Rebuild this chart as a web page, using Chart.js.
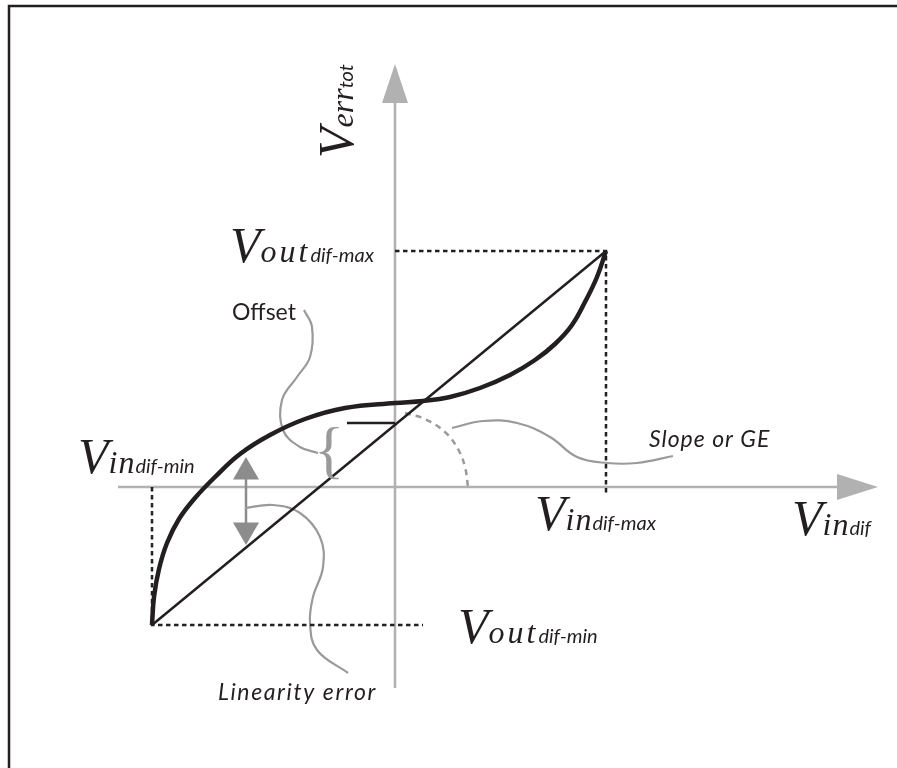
<!DOCTYPE html>
<html>
<head>
<meta charset="utf-8">
<script src="https://cdn.jsdelivr.net/npm/chart.js@4.4.1/dist/chart.umd.min.js"></script>
<style>
  html, body { margin: 0; padding: 0; background: #fff; }
  #wrap { width: 897px; height: 768px; position: relative; }
</style>
</head>
<body>
<div id="wrap"><canvas id="errChart"></canvas></div>
<script>
// transfer curve (real amplifier output), thick line
const curveX = [-243, -241, -236, -228, -216, -200, -180, -155, -125, -90, -50, 0, 28, 55, 85, 115, 140, 160, 177, 191, 202, 211];
const curveY = [-138, -110, -82, -56, -32, -11, 10, 33, 52, 68, 79, 84, 86, 90, 99, 112, 127, 143, 162, 187, 210, 236];

// ideal straight line between min and max
const idealX = [-243, 211];
const idealY = [-138, 236];

// dashed guides to the min / max points
const maxGuideX = [0, 211, 211];
const maxGuideY = [236, 236, -8];
const minGuideX = [-243, -243, 28];
const minGuideY = [0, -138, -138];

// offset mark
const offsetX = [-48, 0];
const offsetY = [64, 64];

// slope arc (dashed gray)
const arcX = [10, 30, 50, 63, 70, 73];
const arcY = [74, 68, 55, 38, 20, 0];

// leader curves to the annotations
const offsetLeadX = [-91, -83, -85, -98, -113, -112, -95, -77];
const offsetLeadY = [177, 160, 130, 110, 87, 57, 40, 34];
const linLeadX = [-150, -122, -95, -75, -72, -82, -85, -78, -47];
const linLeadY = [-21, -18, -26, -50, -80, -110, -136, -163, -186];
const slopeLeadX = [57, 88, 122, 155, 182, 212, 242, 278];
const slopeLeadY = [59, 66, 64, 50, 30, 24, 24, 31];

// linearity error double arrow
const errArrowX = [-149, -149];
const errArrowY = [15, -43];

// axes
const hAxisX = [-277, 442];
const hAxisY = [0, 0];
const vAxisX = [0, 0];
const vAxisY = [-201, 384];

const pts = (xs, ys) => xs.map((x, i) => ({ x: x, y: ys[i] }));

const BLACK = '#231f20';
const AXIS = '#b1b1b1';
const LEAD = '#9a9a9a';

const serifIt = s => 'italic ' + s + 'px "Liberation Serif"';
const sansIt = s => 'italic ' + s + 'px Lato';

function drawParts(ctx, parts) {
  let cx = 0;
  parts.forEach(p => {
    ctx.font = p.font;
    ctx.letterSpacing = (p.sp || 0) + 'px';
    ctx.fillText(p.t, cx, 0);
    cx += ctx.measureText(p.t).width;
  });
  ctx.letterSpacing = '0px';
}

function symbol(main, sub) {
  return [
    { t: 'V', font: serifIt(50) },
    { t: main, font: serifIt(32), sp: main === 'out' ? 3 : 1 },
    { t: sub, font: sansIt(20) }
  ];
}

const diagram = {
  id: 'diagram',
  beforeDraw(chart) {
    const ctx = chart.ctx;
    ctx.save();
    ctx.fillStyle = '#fff';
    ctx.fillRect(0, 0, chart.width, chart.height);
    ctx.strokeStyle = BLACK;
    ctx.lineWidth = 2.5;
    ctx.strokeRect(9, 6, chart.width + 20, chart.height + 20);
    ctx.restore();
  },
  afterDatasetsDraw(chart) {
    const ctx = chart.ctx;
    const sx = chart.scales.x, sy = chart.scales.y;
    const px = v => sx.getPixelForValue(v);
    const py = v => sy.getPixelForValue(v);
    ctx.save();

    // axis arrowheads
    ctx.fillStyle = AXIS;
    ctx.beginPath();
    ctx.moveTo(px(442), py(13));
    ctx.lineTo(px(483), py(0));
    ctx.lineTo(px(442), py(-13));
    ctx.closePath();
    ctx.fill();
    ctx.beginPath();
    ctx.moveTo(px(-13), py(384));
    ctx.lineTo(px(0), py(423));
    ctx.lineTo(px(13), py(384));
    ctx.closePath();
    ctx.fill();

    // brace of the offset
    ctx.fillStyle = LEAD;
    ctx.font = '64px "Liberation Serif"';
    ctx.textAlign = 'center';
    ctx.textBaseline = 'middle';
    ctx.fillText('{', px(-66), py(33));

    ctx.textAlign = 'left';
    ctx.textBaseline = 'alphabetic';
    ctx.fillStyle = BLACK;

    // annotations
    ctx.font = '23px Lato';
    ctx.fillText('Offset', px(-163), py(167));
    ctx.font = sansIt(23);
    ctx.letterSpacing = '1px';
    ctx.fillText('Slope or GE', px(254), py(40));
    ctx.letterSpacing = '1.6px';
    ctx.fillText('Linearity error', px(-177), py(-213));
    ctx.letterSpacing = '0px';

    // symbols
    const place = (x, y, parts) => {
      ctx.save();
      ctx.translate(px(x), py(y));
      drawParts(ctx, parts);
      ctx.restore();
    };
    place(-165, 225, symbol('out', 'dif-max'));
    place(-317, 14, symbol('in', 'dif-min'));
    place(140, -43, symbol('in', 'dif-max'));
    place(397, -48, symbol('in', 'dif'));
    place(63, -156, symbol('out', 'dif-min'));

    ctx.save();
    ctx.translate(px(-42), py(329));
    ctx.rotate(-Math.PI / 2);
    drawParts(ctx, [
      { t: 'V', font: serifIt(50) },
      { t: 'err', font: serifIt(32) },
      { t: 'tot', font: sansIt(20) }
    ]);
    ctx.restore();

    ctx.restore();
  }
};

const line = (xs, ys, color, width, extra) => Object.assign({
  data: pts(xs, ys),
  showLine: true,
  borderColor: color,
  borderWidth: width,
  pointRadius: 0,
  fill: false
}, extra || {});

new Chart(document.getElementById('errChart'), {
  type: 'scatter',
  data: {
    datasets: [
      line(curveX, curveY, BLACK, 4.5, { tension: 0.4, order: 0 }),
      line(idealX, idealY, BLACK, 2.5, { order: 1 }),
      line(offsetX, offsetY, BLACK, 2.5, { order: 1 }),
      line(maxGuideX, maxGuideY, BLACK, 2.5, { borderDash: [4.5, 3.5], order: 2 }),
      line(minGuideX, minGuideY, BLACK, 2.5, { borderDash: [4.5, 3.5], order: 2 }),
      line(arcX, arcY, LEAD, 2.5, { borderDash: [6, 5], tension: 0.4, order: 3 }),
      line(offsetLeadX, offsetLeadY, LEAD, 2.2, { tension: 0.4, order: 3 }),
      line(linLeadX, linLeadY, LEAD, 2.2, { tension: 0.4, order: 3 }),
      line(slopeLeadX, slopeLeadY, LEAD, 2.2, { tension: 0.4, order: 3 }),
      line(errArrowX, errArrowY, '#8c8c8c', 2.5, {
        pointRadius: 15,
        pointStyle: 'triangle',
        pointRotation: [0, 180],
        pointBackgroundColor: '#8c8c8c',
        pointBorderWidth: 0,
        order: 3
      }),
      line(hAxisX, hAxisY, AXIS, 2.5, { order: 5 }),
      line(vAxisX, vAxisY, AXIS, 2.5, { order: 5 })
    ]
  },
  options: {
    responsive: true,
    maintainAspectRatio: false,
    animation: false,
    events: [],
    layout: { padding: 0, autoPadding: false },
    scales: {
      x: { type: 'linear', min: -395, max: 502, display: false },
      y: { type: 'linear', min: -281, max: 487, display: false }
    },
    plugins: {
      legend: { display: false },
      tooltip: { enabled: false }
    }
  },
  plugins: [diagram]
});
</script>
</body>
</html>
